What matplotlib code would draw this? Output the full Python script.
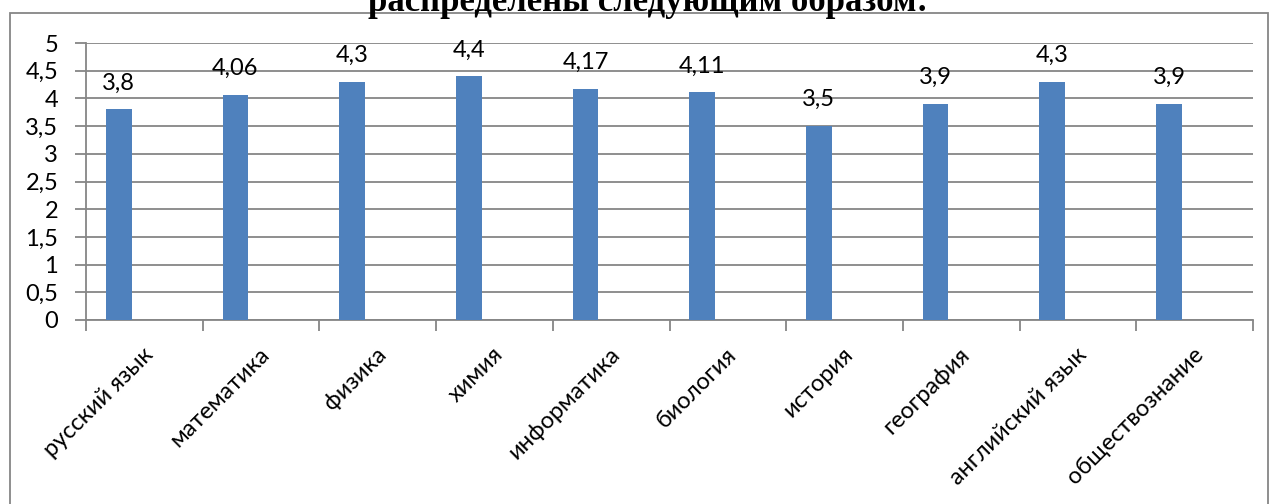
import numpy as np
import matplotlib.pyplot as plt
from matplotlib.patches import Rectangle

# Data
subjects = ["русский язык", "математика", "физика", "химия", "информатика",
            "биология", "история", "география", "английский язык", "обществознание"]
scores = [3.8, 4.06, 4.3, 4.4, 4.17, 4.11, 3.5, 3.9, 4.3, 3.9]
y_ticks = [0, 0.5, 1, 1.5, 2, 2.5, 3, 3.5, 4, 4.5, 5]

W, H = 1271, 504
bar_color = '#4F81BD'
line_color = '#868686'
fs = 17

plt.rcParams['font.family'] = ['Lato', 'DejaVu Sans']

fig = plt.figure(figsize=(W/100, H/100), dpi=100)

# title, partly cut off at the top (as in the source document)
fig.text(648/W, 1 - 11/H, "распределены следующим образом:", ha='center', va='baseline',
         fontsize=25, fontweight='bold', family='Liberation Serif')

# chart border (white, hides the title descenders)
border = Rectangle((10/W, -0.1), 1258/W, 1.1 - 13/H, transform=fig.transFigure,
                   facecolor='white', edgecolor=line_color, linewidth=1.3, zorder=2)
fig.patches.append(border)

ax = fig.add_axes([86/W, 1 - 320/H, (1253-86)/W, (320-43)/H])
ax.set_zorder(3)
ax.patch.set_alpha(0)

x = np.arange(len(subjects))
ax.bar(x + 0.28, scores, width=0.22, color=bar_color, zorder=3)

for xi, v in zip(x, scores):
    ax.annotate(str(v).replace('.', ','), (xi + 0.28, v), xytext=(0, 19),
                textcoords='offset points', ha='center', va='center', fontsize=fs)

ax.set_xlim(0, len(subjects))
ax.set_ylim(0, 5)
ax.set_yticks(y_ticks)
ax.set_yticklabels([str(t).replace('.0', '').replace('.', ',') for t in y_ticks], fontsize=fs)
ax.yaxis.grid(True, color=line_color, linewidth=1.3)
ax.set_axisbelow(True)

# category boundaries get tick marks, labels at category centres
ax.set_xticks(np.arange(len(subjects) + 1))
ax.set_xticklabels([])
ax.set_xticks(x + 0.48, minor=True)
ax.set_xticklabels(subjects, minor=True, rotation=45, ha='right', va='top',
                   rotation_mode='anchor', fontsize=fs)
ax.tick_params(axis='x', which='minor', length=0, pad=17)
ax.tick_params(axis='x', which='major', length=8, width=1.3, color=line_color)
ax.tick_params(axis='y', length=8, width=1.3, color=line_color, pad=12)

for s in ['top', 'right']:
    ax.spines[s].set_visible(False)
for s in ['left', 'bottom']:
    ax.spines[s].set_color(line_color)
    ax.spines[s].set_linewidth(1.3)

fig.savefig('out.png', dpi=100)
